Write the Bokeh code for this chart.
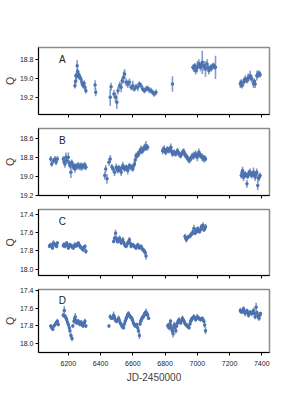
from bokeh.plotting import figure
from bokeh.layouts import column
from bokeh.models import Range1d, FixedTicker, Label, ColumnDataSource, PrintfTickFormatter
from bokeh.embed import file_html
from bokeh.resources import INLINE

# ---- data: (JD-2450000, Q magnitude, error) ----
panel_a = [
    (6241, 19.076, 0.03), (6245, 19.030, 0.03), (6247, 18.972, 0.03), (6251, 18.979, 0.04),
    (6255, 18.869, 0.06), (6258, 18.930, 0.03), (6262, 18.972, 0.03), (6265, 18.960, 0.03),
    (6268, 18.983, 0.03), (6272, 18.990, 0.03), (6278, 19.007, 0.03), (6284, 19.041, 0.03),
    (6288, 19.060, 0.03), (6292, 19.076, 0.03), (6298, 19.050, 0.03), (6303, 19.093, 0.03),
    (6309, 19.128, 0.03), (6366, 19.069, 0.05), (6370, 19.145, 0.04),
    (6460, 19.197, 0.09), (6465, 19.086, 0.04), (6483, 19.162, 0.04), (6493, 19.197, 0.05),
    (6501, 19.248, 0.07), (6508, 19.128, 0.04), (6518, 19.076, 0.04), (6528, 19.093, 0.05),
    (6534, 19.024, 0.04), (6543, 18.990, 0.06), (6549, 18.955, 0.05), (6559, 19.041, 0.04),
    (6569, 19.059, 0.04), (6579, 19.041, 0.04), (6590, 19.093, 0.03), (6600, 19.076, 0.05),
    (6610, 19.110, 0.03), (6620, 19.086, 0.03), (6631, 19.093, 0.04), (6641, 19.059, 0.03),
    (6651, 19.076, 0.03), (6661, 19.110, 0.03), (6672, 19.128, 0.03), (6682, 19.110, 0.03),
    (6692, 19.103, 0.03), (6702, 19.121, 0.03), (6713, 19.128, 0.03), (6723, 19.145, 0.03),
    (6733, 19.162, 0.03), (6744, 19.145, 0.03),
    (6846, 19.059, 0.08),
    (6973, 18.886, 0.03), (6979, 18.893, 0.04), (6985, 18.870, 0.03), (6990, 18.921, 0.04),
    (6995, 18.900, 0.03), (7000, 18.879, 0.06), (7010, 18.852, 0.05), (7015, 18.860, 0.03),
    (7020, 18.886, 0.04), (7026, 18.870, 0.03), (7031, 18.834, 0.12), (7041, 18.869, 0.05),
    (7046, 18.880, 0.03), (7051, 18.903, 0.08), (7061, 18.852, 0.05), (7067, 18.890, 0.03),
    (7072, 18.921, 0.04), (7082, 18.886, 0.03), (7087, 18.900, 0.03), (7092, 18.879, 0.03),
    (7097, 18.870, 0.03), (7102, 18.869, 0.03), (7108, 18.880, 0.03), (7113, 18.886, 0.12),
    (7267, 19.059, 0.04), (7272, 19.040, 0.03), (7277, 19.076, 0.03), (7287, 19.041, 0.04),
    (7292, 19.020, 0.03), (7297, 19.007, 0.04), (7308, 19.024, 0.03), (7313, 19.000, 0.04),
    (7318, 18.990, 0.04), (7328, 18.972, 0.05), (7333, 18.990, 0.03), (7338, 19.007, 0.04),
    (7349, 19.059, 0.04), (7354, 19.030, 0.03), (7359, 19.059, 0.04), (7369, 18.972, 0.05),
    (7374, 18.970, 0.03), (7379, 18.955, 0.04), (7385, 18.950, 0.03), (7390, 18.962, 0.03),
]

panel_b = [
    (6091, 18.818, 0.03), (6097, 18.870, 0.03), (6108, 18.836, 0.03), (6118, 18.818, 0.03),
    (6124, 18.853, 0.03), (6132, 18.818, 0.03), (6169, 18.818, 0.03), (6174, 18.850, 0.03),
    (6179, 18.870, 0.04), (6185, 18.800, 0.05), (6190, 18.836, 0.03), (6200, 18.801, 0.05),
    (6205, 18.860, 0.03), (6210, 18.888, 0.03), (6216, 18.957, 0.06), (6221, 18.853, 0.03),
    (6226, 18.880, 0.03), (6231, 18.905, 0.03), (6236, 18.890, 0.03), (6241, 18.922, 0.04),
    (6246, 18.900, 0.03), (6251, 18.888, 0.03), (6257, 18.900, 0.03), (6262, 18.881, 0.03),
    (6267, 18.895, 0.03), (6272, 18.905, 0.03), (6277, 18.885, 0.03), (6282, 18.905, 0.04),
    (6287, 18.895, 0.03), (6292, 18.888, 0.03), (6298, 18.900, 0.03), (6303, 18.881, 0.03),
    (6309, 18.905, 0.03),
    (6426, 18.992, 0.04), (6432, 18.922, 0.04), (6440, 19.026, 0.05), (6452, 18.853, 0.04),
    (6460, 18.818, 0.04), (6470, 18.900, 0.03), (6477, 18.922, 0.03), (6487, 18.957, 0.04),
    (6497, 18.905, 0.04), (6503, 18.920, 0.03), (6508, 18.940, 0.03), (6513, 18.910, 0.03),
    (6518, 18.922, 0.03), (6523, 18.930, 0.03), (6528, 18.957, 0.04), (6533, 18.910, 0.03),
    (6538, 18.888, 0.04), (6544, 18.910, 0.03), (6549, 18.922, 0.03), (6554, 18.915, 0.03),
    (6559, 18.905, 0.03), (6564, 18.920, 0.03), (6569, 18.940, 0.04), (6574, 18.905, 0.03),
    (6579, 18.888, 0.03), (6585, 18.900, 0.03), (6590, 18.905, 0.03), (6595, 18.910, 0.03),
    (6600, 18.922, 0.03), (6605, 18.890, 0.03), (6610, 18.870, 0.03), (6615, 18.830, 0.03),
    (6620, 18.784, 0.03), (6625, 18.790, 0.03), (6631, 18.766, 0.03), (6636, 18.770, 0.03),
    (6641, 18.749, 0.03), (6646, 18.730, 0.03), (6651, 18.714, 0.04), (6656, 18.740, 0.03),
    (6661, 18.732, 0.03), (6666, 18.710, 0.03), (6672, 18.697, 0.04), (6677, 18.700, 0.03),
    (6682, 18.680, 0.05), (6687, 18.700, 0.03), (6692, 18.697, 0.03),
    (6785, 18.732, 0.04), (6790, 18.720, 0.03), (6795, 18.714, 0.04), (6800, 18.740, 0.03),
    (6805, 18.749, 0.03), (6810, 18.730, 0.03), (6815, 18.714, 0.03), (6820, 18.725, 0.03),
    (6826, 18.732, 0.03), (6831, 18.715, 0.03), (6836, 18.697, 0.04), (6841, 18.740, 0.03),
    (6846, 18.766, 0.03), (6851, 18.755, 0.03), (6856, 18.749, 0.03), (6862, 18.760, 0.03),
    (6867, 18.766, 0.03), (6872, 18.750, 0.03), (6877, 18.732, 0.03), (6882, 18.750, 0.03),
    (6887, 18.766, 0.03), (6892, 18.775, 0.03), (6897, 18.784, 0.03), (6903, 18.765, 0.03),
    (6908, 18.749, 0.03), (6913, 18.740, 0.03), (6918, 18.749, 0.04), (6923, 18.770, 0.03),
    (6928, 18.784, 0.03), (6933, 18.795, 0.03), (6938, 18.801, 0.03), (6944, 18.820, 0.03),
    (6949, 18.836, 0.03), (6954, 18.825, 0.03), (6959, 18.818, 0.03), (6964, 18.800, 0.03),
    (6969, 18.784, 0.03), (6974, 18.790, 0.03), (6979, 18.784, 0.04), (6985, 18.775, 0.03),
    (6990, 18.766, 0.04), (6995, 18.785, 0.03), (7000, 18.801, 0.04), (7005, 18.770, 0.03),
    (7010, 18.749, 0.04), (7015, 18.770, 0.03), (7020, 18.784, 0.03), (7026, 18.790, 0.03),
    (7031, 18.801, 0.04), (7036, 18.810, 0.03), (7041, 18.818, 0.04), (7046, 18.810, 0.03),
    (7051, 18.818, 0.03),
    (7273, 18.992, 0.03), (7277, 18.960, 0.03), (7281, 18.940, 0.04), (7287, 19.009, 0.04),
    (7292, 18.980, 0.03), (7297, 18.974, 0.03), (7303, 18.990, 0.03), (7308, 19.078, 0.04),
    (7313, 19.000, 0.03), (7318, 18.974, 0.04), (7323, 18.960, 0.03), (7328, 18.957, 0.04),
    (7333, 18.980, 0.03), (7338, 18.992, 0.03), (7344, 18.970, 0.03), (7349, 18.957, 0.05),
    (7354, 18.980, 0.03), (7359, 19.009, 0.04), (7364, 18.980, 0.03), (7369, 18.957, 0.04),
    (7375, 19.096, 0.05), (7379, 19.020, 0.03), (7383, 19.009, 0.04), (7390, 18.992, 0.03),
]

panel_c = [
    (6083, 17.752, 0.02), (6087, 17.740, 0.02), (6091, 17.734, 0.02), (6097, 17.750, 0.02),
    (6102, 17.769, 0.02), (6108, 17.716, 0.03), (6113, 17.730, 0.02), (6118, 17.734, 0.02),
    (6123, 17.745, 0.02), (6128, 17.752, 0.02), (6132, 17.716, 0.02), (6169, 17.745, 0.02),
    (6174, 17.730, 0.02), (6179, 17.752, 0.02), (6185, 17.735, 0.02), (6190, 17.716, 0.02),
    (6195, 17.740, 0.02), (6200, 17.769, 0.02), (6205, 17.750, 0.02), (6210, 17.734, 0.02),
    (6216, 17.745, 0.02), (6221, 17.752, 0.03), (6226, 17.760, 0.02), (6231, 17.769, 0.02),
    (6236, 17.750, 0.02), (6241, 17.734, 0.03), (6246, 17.745, 0.02), (6251, 17.745, 0.02),
    (6257, 17.730, 0.02), (6262, 17.716, 0.02), (6267, 17.740, 0.02), (6272, 17.752, 0.03),
    (6277, 17.760, 0.02), (6282, 17.769, 0.02), (6287, 17.780, 0.02), (6292, 17.787, 0.03),
    (6298, 17.765, 0.02), (6303, 17.752, 0.02), (6309, 17.805, 0.03),
    (6481, 17.698, 0.02), (6487, 17.663, 0.03), (6493, 17.610, 0.04), (6497, 17.660, 0.02),
    (6501, 17.681, 0.02), (6505, 17.700, 0.02), (6508, 17.698, 0.02), (6513, 17.680, 0.02),
    (6518, 17.663, 0.03), (6523, 17.690, 0.02), (6528, 17.716, 0.02), (6533, 17.700, 0.02),
    (6538, 17.681, 0.03), (6544, 17.710, 0.02), (6549, 17.734, 0.02), (6554, 17.745, 0.02),
    (6559, 17.752, 0.02), (6564, 17.730, 0.02), (6569, 17.716, 0.02), (6574, 17.700, 0.02),
    (6579, 17.681, 0.03), (6585, 17.720, 0.02), (6590, 17.752, 0.02), (6595, 17.740, 0.02),
    (6600, 17.734, 0.02), (6605, 17.745, 0.02), (6610, 17.752, 0.02), (6615, 17.760, 0.02),
    (6620, 17.769, 0.02), (6625, 17.750, 0.02), (6631, 17.734, 0.02), (6636, 17.755, 0.02),
    (6641, 17.769, 0.02), (6646, 17.760, 0.02), (6651, 17.752, 0.02), (6656, 17.770, 0.02),
    (6661, 17.787, 0.02), (6666, 17.795, 0.02), (6672, 17.805, 0.03), (6677, 17.820, 0.03),
    (6682, 17.858, 0.04),
    (6924, 17.645, 0.03), (6928, 17.660, 0.02), (6932, 17.681, 0.03), (6938, 17.663, 0.02),
    (6944, 17.650, 0.02), (6949, 17.645, 0.02), (6954, 17.640, 0.02), (6959, 17.627, 0.03),
    (6964, 17.620, 0.02), (6969, 17.610, 0.02), (6974, 17.590, 0.02), (6979, 17.556, 0.04),
    (6986, 17.610, 0.02), (6990, 17.600, 0.02), (6994, 17.574, 0.03), (6999, 17.590, 0.02),
    (7004, 17.556, 0.02), (7009, 17.580, 0.02), (7014, 17.592, 0.02), (7020, 17.570, 0.02),
    (7025, 17.539, 0.03), (7030, 17.550, 0.02), (7035, 17.521, 0.03), (7041, 17.574, 0.02),
    (7046, 17.560, 0.02), (7051, 17.539, 0.03),
]

panel_d = [
    (6091, 17.802, 0.02), (6097, 17.820, 0.03), (6104, 17.837, 0.02), (6111, 17.800, 0.02),
    (6118, 17.784, 0.02), (6124, 17.767, 0.02), (6128, 17.760, 0.02), (6132, 17.749, 0.03),
    (6138, 17.784, 0.02), (6169, 17.679, 0.03), (6175, 17.626, 0.05), (6182, 17.696, 0.03),
    (6186, 17.710, 0.02), (6190, 17.732, 0.02), (6195, 17.760, 0.02), (6200, 17.784, 0.03),
    (6206, 17.820, 0.03), (6210, 17.855, 0.03), (6216, 17.908, 0.03), (6223, 17.943, 0.03),
    (6228, 17.800, 0.02), (6235, 17.749, 0.03), (6239, 17.720, 0.02), (6243, 17.696, 0.04),
    (6247, 17.740, 0.02), (6251, 17.767, 0.02), (6257, 17.750, 0.02), (6262, 17.749, 0.03),
    (6267, 17.770, 0.02), (6272, 17.784, 0.02), (6277, 17.760, 0.02), (6282, 17.767, 0.03),
    (6287, 17.790, 0.02), (6292, 17.802, 0.02), (6298, 17.770, 0.02), (6303, 17.749, 0.03),
    (6309, 17.802, 0.02),
    (6452, 17.802, 0.02), (6460, 17.696, 0.03), (6466, 17.710, 0.02), (6473, 17.714, 0.02),
    (6477, 17.700, 0.02), (6481, 17.679, 0.04), (6486, 17.700, 0.02), (6491, 17.732, 0.03),
    (6496, 17.740, 0.02), (6501, 17.749, 0.02), (6507, 17.730, 0.02), (6512, 17.714, 0.03),
    (6517, 17.740, 0.02), (6522, 17.767, 0.02), (6527, 17.780, 0.02), (6532, 17.802, 0.03),
    (6538, 17.810, 0.02), (6543, 17.820, 0.02), (6548, 17.780, 0.02), (6553, 17.749, 0.02),
    (6558, 17.720, 0.02), (6563, 17.696, 0.04), (6568, 17.680, 0.02), (6573, 17.661, 0.03),
    (6579, 17.680, 0.02), (6584, 17.696, 0.02), (6589, 17.705, 0.02), (6594, 17.714, 0.02),
    (6599, 17.740, 0.02), (6604, 17.767, 0.02), (6609, 17.785, 0.02), (6614, 17.802, 0.02),
    (6620, 17.790, 0.02), (6625, 17.784, 0.02), (6630, 17.820, 0.02), (6635, 17.855, 0.03),
    (6641, 17.908, 0.04), (6645, 17.780, 0.02), (6649, 17.749, 0.02), (6653, 17.730, 0.02),
    (6657, 17.714, 0.02), (6661, 17.700, 0.02), (6666, 17.696, 0.03), (6670, 17.680, 0.02),
    (6674, 17.661, 0.03), (6678, 17.650, 0.02), (6682, 17.643, 0.04), (6687, 17.660, 0.02),
    (6692, 17.679, 0.02), (6698, 17.714, 0.02),
    (6817, 17.802, 0.03), (6821, 17.790, 0.02), (6826, 17.820, 0.03), (6830, 17.780, 0.02),
    (6834, 17.749, 0.03), (6838, 17.800, 0.02), (6842, 17.837, 0.03), (6846, 17.860, 0.02),
    (6850, 17.890, 0.04), (6854, 17.820, 0.02), (6858, 17.784, 0.03), (6862, 17.820, 0.02),
    (6867, 17.855, 0.03), (6872, 17.800, 0.02), (6877, 17.767, 0.03), (6882, 17.745, 0.02),
    (6887, 17.732, 0.03), (6892, 17.750, 0.02), (6897, 17.767, 0.02), (6903, 17.740, 0.02),
    (6908, 17.714, 0.03), (6913, 17.730, 0.02), (6918, 17.749, 0.02), (6923, 17.770, 0.02),
    (6928, 17.784, 0.02), (6933, 17.790, 0.02), (6938, 17.802, 0.02), (6944, 17.810, 0.02),
    (6949, 17.820, 0.02), (6954, 17.780, 0.02), (6959, 17.749, 0.04), (6964, 17.730, 0.02),
    (6969, 17.714, 0.02), (6974, 17.705, 0.02), (6979, 17.696, 0.03), (6985, 17.715, 0.02),
    (6990, 17.732, 0.02), (6995, 17.715, 0.02), (7000, 17.696, 0.03), (7005, 17.705, 0.02),
    (7010, 17.714, 0.02), (7015, 17.725, 0.02), (7020, 17.732, 0.02), (7026, 17.720, 0.02),
    (7031, 17.714, 0.02), (7036, 17.730, 0.02), (7041, 17.749, 0.02), (7046, 17.790, 0.03),
    (7051, 17.855, 0.04),
    (7267, 17.626, 0.03), (7272, 17.640, 0.02), (7277, 17.643, 0.02), (7282, 17.625, 0.02),
    (7287, 17.608, 0.03), (7292, 17.640, 0.02), (7297, 17.661, 0.03), (7303, 17.640, 0.02),
    (7308, 17.626, 0.02), (7313, 17.650, 0.02), (7318, 17.679, 0.03), (7323, 17.660, 0.02),
    (7328, 17.643, 0.02), (7333, 17.655, 0.02), (7338, 17.661, 0.03), (7344, 17.640, 0.02),
    (7349, 17.626, 0.03), (7354, 17.660, 0.02), (7359, 17.696, 0.03), (7365, 17.590, 0.05),
    (7370, 17.650, 0.02), (7375, 17.679, 0.03), (7379, 17.700, 0.02), (7383, 17.714, 0.03),
    (7388, 17.680, 0.02), (7392, 17.661, 0.02),
]

panel_names = ["A", "B", "C", "D"]
panel_data = [panel_a, panel_b, panel_c, panel_d]
y_limits = [(18.68, 19.375), (18.50, 19.20), (17.35, 18.07), (17.39, 18.10)]
y_ticks = [[18.8, 19.0, 19.2], [18.6, 18.8, 19.0, 19.2],
           [17.4, 17.6, 17.8, 18.0], [17.4, 17.6, 17.8, 18.0]]
x_limits = (6015, 7448)
x_ticks = [6200, 6400, 6600, 6800, 7000, 7200, 7400]

BLUE = "#4c72b0"
FONT = "Liberation Sans"
frame_heights = [67, 67, 66, 66]

x_range = Range1d(*x_limits)
figs = []
n = len(panel_names)
for i, (name, pts, (ylo, yhi), yt) in enumerate(zip(panel_names, panel_data, y_limits, y_ticks)):
    last = i == n - 1
    top = 47 if i == 0 else 7
    bottom = 30 if last else 7
    p = figure(width=289, height=top + frame_heights[i] + bottom, output_backend="svg",
               toolbar_location=None, x_range=x_range,
               y_range=Range1d(start=yhi, end=ylo),
               min_border_left=30, min_border_right=20,
               min_border_top=top, min_border_bottom=bottom)
    jd = [t[0] for t in pts]
    q = [t[1] for t in pts]
    e = [t[2] for t in pts]
    src = ColumnDataSource(dict(jd=jd, q=q,
                                lo=[a - b for a, b in zip(q, e)],
                                hi=[a + b for a, b in zip(q, e)]))
    p.segment(x0="jd", y0="lo", x1="jd", y1="hi", source=src,
              line_color=BLUE, line_alpha=0.7, line_width=1.6)
    p.scatter(x="jd", y="q", source=src, size=3.5, color=BLUE, line_width=0)

    p.grid.visible = False
    p.outline_line_color = "#8c8c8c"
    p.outline_line_width = 1.5
    p.background_fill_color = "white"
    p.border_fill_color = "white"

    for ax in (p.xaxis[0], p.yaxis[0]):
        ax.axis_line_color = "black"
        ax.axis_line_width = 1
        ax.major_tick_line_color = "black"
        ax.major_tick_out = 3
        ax.major_tick_in = 0
        ax.minor_tick_line_color = None
        ax.major_label_text_font = FONT
        ax.major_label_text_font_size = "7px"
        ax.major_label_text_color = "#222222"
        ax.major_label_standoff = 2

    p.xaxis.ticker = FixedTicker(ticks=x_ticks)
    p.yaxis.ticker = FixedTicker(ticks=yt)
    p.yaxis.formatter = PrintfTickFormatter(format="%.1f")
    p.yaxis.major_label_standoff = 2
    p.yaxis.axis_label = "Q"
    p.yaxis.axis_label_text_font = FONT
    p.yaxis.axis_label_text_font_size = "10.5px"
    p.yaxis.axis_label_text_font_style = "normal"
    p.yaxis.axis_label_standoff = 1

    if last:
        p.xaxis.major_label_standoff = 5
        p.xaxis.axis_label = "JD-2450000"
        p.xaxis.axis_label_text_font = FONT
        p.xaxis.axis_label_text_font_size = "10px"
        p.xaxis.axis_label_text_font_style = "normal"
        p.xaxis.axis_label_standoff = 3
    else:
        p.xaxis.major_label_overrides = {t: "" for t in x_ticks}
        p.xaxis.major_label_text_font_size = "0px"
        p.xaxis.major_label_standoff = 0

    lab_x = x_limits[0] + 0.103 * (x_limits[1] - x_limits[0])
    lab_y = ylo + 0.18 * (yhi - ylo)
    p.add_layout(Label(x=lab_x, y=lab_y, text=name, text_font=FONT,
                       text_font_size="10px", text_align="center",
                       text_baseline="middle", text_color="#222222"))
    figs.append(p)

layout = column(*figs, spacing=0)
open("out.html", "w").write(file_html(layout, INLINE))
